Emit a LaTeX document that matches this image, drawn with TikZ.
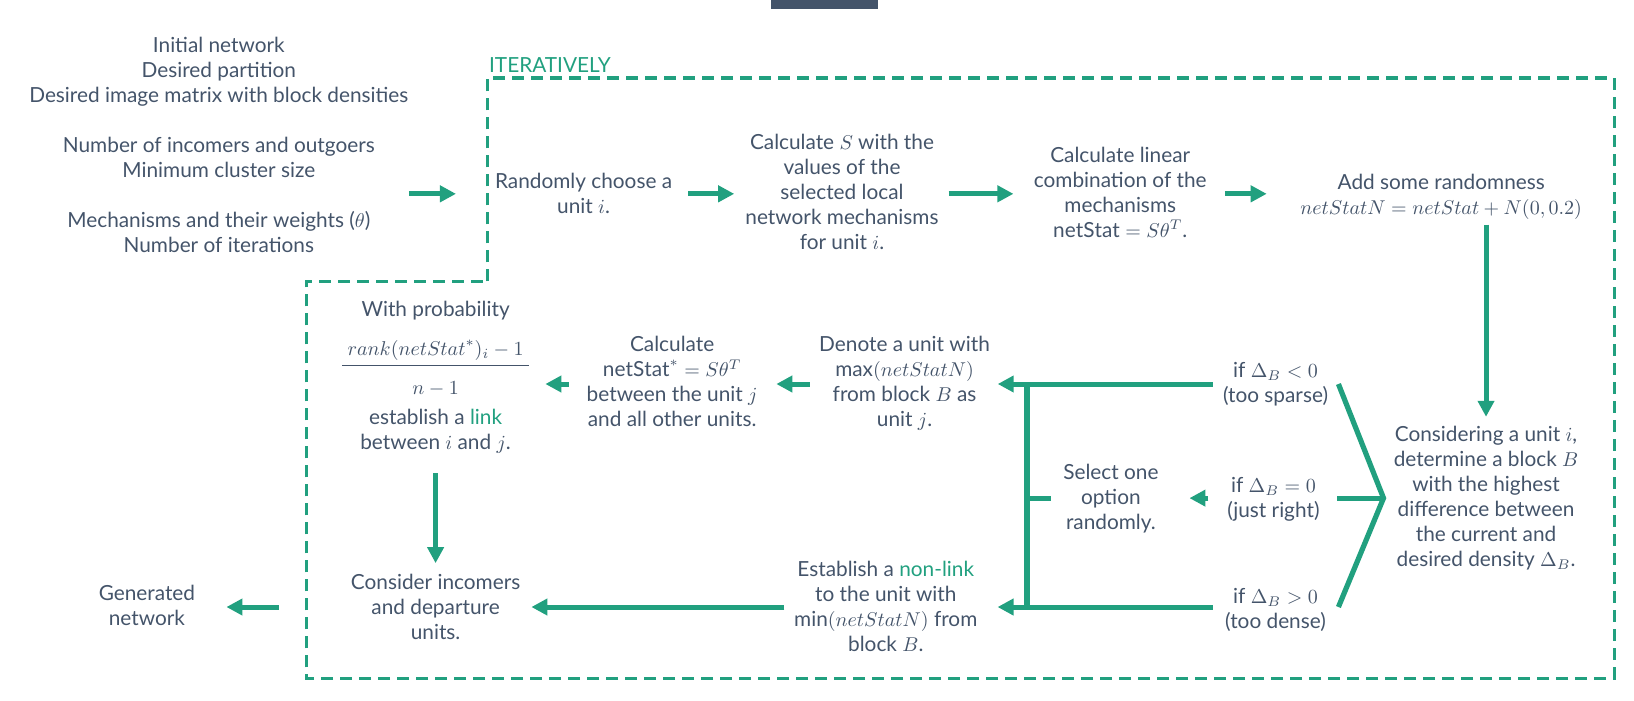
\documentclass[tikz,border=0pt]{standalone}
\usepackage{amsmath}
\usepackage{fontspec}
\setmainfont{Lato}
\usetikzlibrary{arrows.meta}
\definecolor{tgreen}{RGB}{33,160,127}
\definecolor{tdark}{RGB}{68,84,106}

\begin{document}
\begin{tikzpicture}[x=0.52105pt,y=-0.52105pt,
		every node/.style={inner sep=0pt, align=center, anchor=north, text=tdark, font=\fontsize{10.4}{12.5}\selectfont},
		arr/.style={draw=tgreen, line width=2.5pt, -{Triangle[length=8pt,width=8pt]}},
		brk/.style={draw=tgreen, line width=2.6pt},
		frame/.style={draw=tgreen, line width=1.7pt, dash pattern=on 6pt off 3.5pt}]
		\useasboundingbox (0,0) rectangle (1568,672);
		\fill[tdark] (740,0) rectangle (843,8.5);
		% iterative part
		\draw[frame] (468,270) -- (468,75) -- (1549,75) -- (1549,651) -- (294,651) -- (294,270) -- cycle;
		\node[anchor=base west, text=tgreen] (iter) at (469,70) {ITERATIVELY};
		% rows of the arrows
		\coordinate (r1) at (0,186);
		\coordinate (r2) at (0,368.5);
		\coordinate (rm) at (0,478);
		\coordinate (r3) at (0,582.5);
		% nodes
		\node[minimum width=198pt] (inputs) at (210,35.4) {Initial network\\Desired partition\\Desired image matrix with block densities\\[12.5pt]Number of incomers and outgoers\\Minimum cluster size\\[12.5pt]Mechanisms and their weights ($\theta$)\\Number of iterations};
		\node[minimum width=93.8pt] (rand) at (560,165.4) {Randomly choose a\\unit $i$.};
		\node[minimum width=104.2pt] (calcS) at (808,128.4) {Calculate $S$ with the\\values of the\\selected local\\network mechanisms\\for unit $i$.};
		\node[minimum width=93.8pt] (lincomb) at (1075,140.4) {Calculate linear\\combination of the\\mechanisms\\$\mathrm{netStat} = S\theta^{T}$.};
		\node[minimum width=156.3pt] (noise) at (1383,166.4) {Add some randomness\\$netStatN = netStat + N(0,0.2)$};
		\node[minimum width=102.1pt] (block) at (1426,408.4) {Considering a unit $i$,\\determine a block $B$\\with the highest\\difference between\\the current and\\desired density $\Delta_B$.};
		\node[minimum width=62.5pt] (sparse) at (1224,347.4) {if $\Delta_B < 0$\\(too sparse)};
		\node[minimum width=63.6pt] (justr) at (1222,457.4) {if $\Delta_B = 0$\\(just right)};
		\node[minimum width=62.5pt] (dense) at (1224,564.4) {if $\Delta_B > 0$\\(too dense)};
		\node[minimum width=59.4pt] (select) at (1066,445.4) {Select one\\option\\randomly.};
		\node[minimum width=88.6pt] (denote) at (868,322) {Denote a unit with\\$\max(netStatN)$\\from block $B$ as\\unit $j$.};
		\node[minimum width=104.2pt] (nonlink) at (850,538) {Establish a \textcolor{tgreen}{non-link}\\to the unit with\\$\min(netStatN)$ from\\block $B$.};
		\node[minimum width=88.6pt] (calcstar) at (645,322) {Calculate\\$\mathrm{netStat}^{*} = S\theta^{T}$\\between the unit $j$\\and all other units.};
		\node[minimum width=99pt] (prob) at (418,288.4) {With probability\\[9.2pt]$\frac{\displaystyle\;rank(netStat^{*})_i - 1\;\rule[-4.6pt]{0pt}{1pt}}{\displaystyle n-1\rule{0pt}{13.8pt}}$\\[5.7pt]establish a \textcolor{tgreen}{link}\\between $i$ and $j$.};
		\node[minimum width=88.6pt] (consider) at (418,550.4) {Consider incomers\\and departure\\units.};
		\node[minimum width=52.1pt] (gen) at (141,561.4) {Generated\\network};
		% connectors
		\coordinate (tip) at (block.west |- rm);
		\coordinate (jn) at ([xshift=-12pt]select.west);
		\draw[arr, shorten <=-4.2pt, shorten >=16.7pt] (inputs.east |- r1) -- (rand.west |- r1);
		\draw[arr, shorten <=5.2pt, shorten >=1.6pt] (rand.east |- r1) -- (calcS.west |- r1);
		\draw[arr, shorten <=1pt, shorten >=6.3pt] (calcS.east |- r1) -- (lincomb.west |- r1);
		\draw[arr, shorten <=5.2pt, shorten >=8.9pt] (lincomb.east |- r1) -- (noise.west |- r1);
		\draw[arr, shorten <=2.6pt, shorten >=4.4pt] (noise.south -| block.north) -- (block.north);
		\draw[brk, line join=miter] (sparse.east |- r2) -- (tip) -- (dense.east |- r3);
		\draw[brk] (justr.east |- rm) -- (tip);
		\draw[arr, shorten >=2.1pt] (sparse.west |- r2) -- (denote.east |- r2);
		\draw[arr, shorten >=3.6pt] (dense.west |- r3) -- (nonlink.east |- r3);
		\draw[brk] (jn |- r2) -- (jn |- r3);
		\draw[brk] (jn |- rm) -- (select.west |- rm);
		\draw[arr, shorten <=0.5pt, shorten >=9.4pt] (justr.west |- rm) -- (select.east |- rm);
		\draw[arr, shorten <=2.9pt, shorten >=7.6pt] (denote.west |- r2) -- (calcstar.east |- r2);
		\draw[arr, shorten <=7.3pt, shorten >=5.2pt] (calcstar.west |- r2) -- (prob.east |- r2);
		\draw[arr, shorten <=9.5pt, shorten >=5.2pt] (prob.south) -- (consider.north);
		\draw[arr, shorten <=-1.6pt, shorten >=3.4pt] (nonlink.west |- r3) -- (consider.east |- r3);
		\draw[arr, shorten <=33.9pt, shorten >=13.5pt] (consider.west |- r3) -- (gen.east |- r3);
	\end{tikzpicture}
\end{document}
